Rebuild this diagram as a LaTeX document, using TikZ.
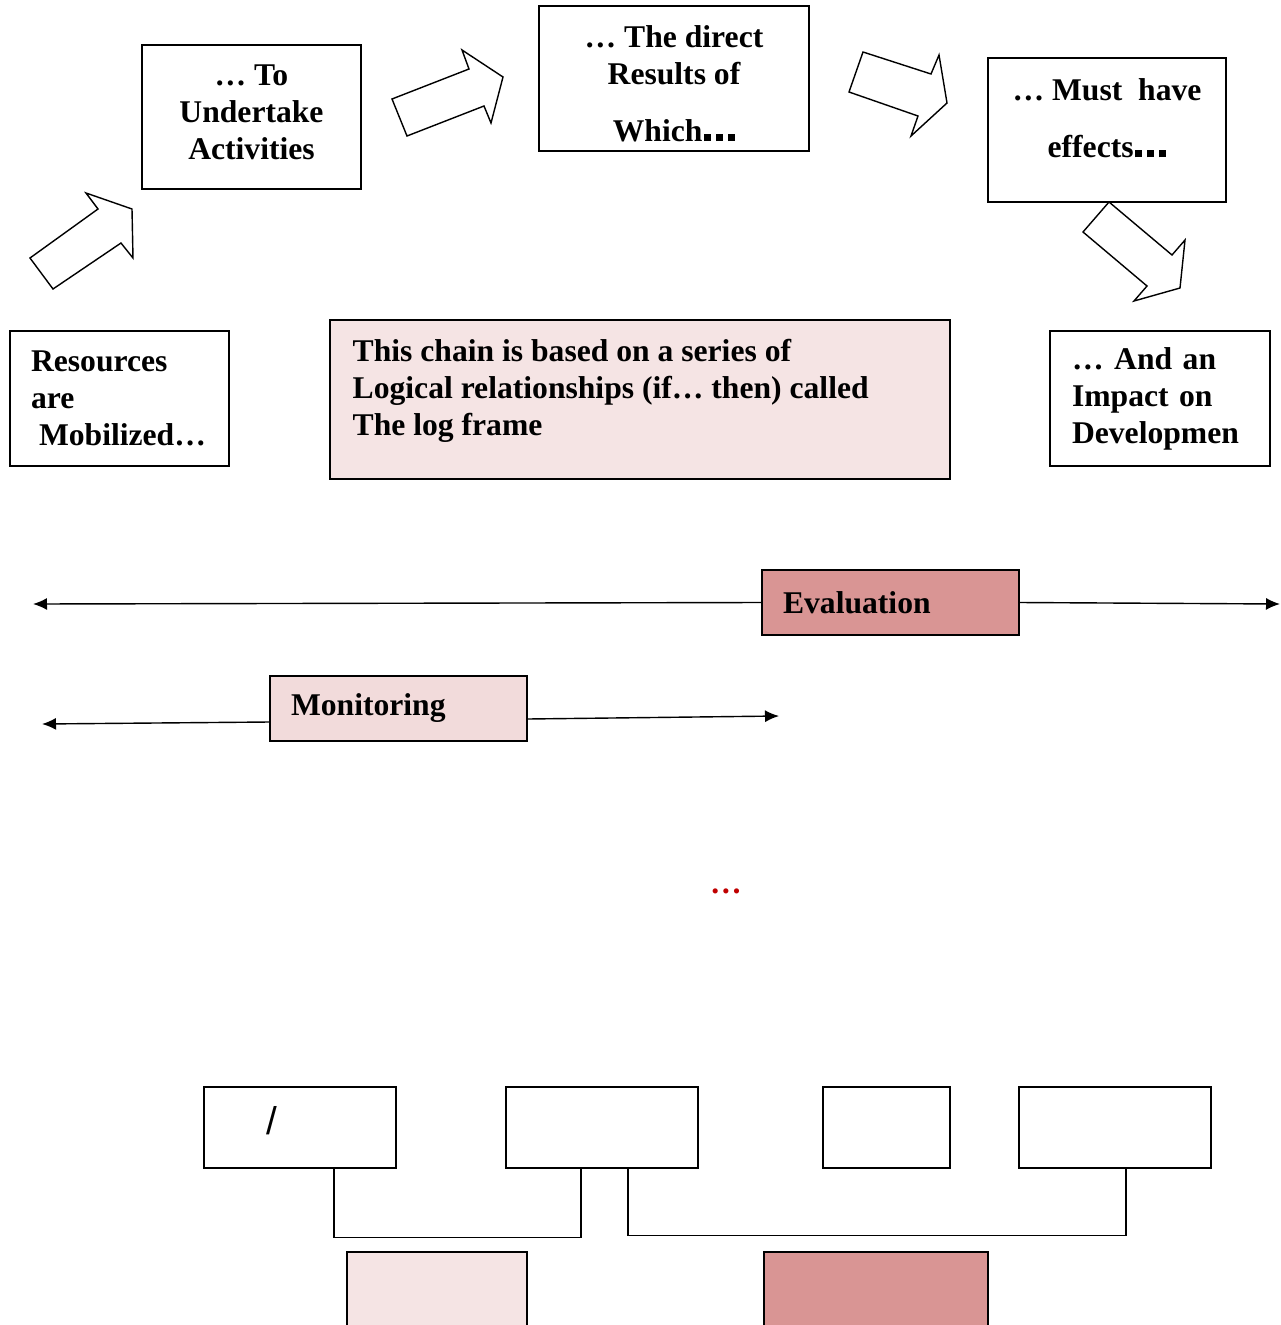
\documentclass[tikz,border=0pt]{standalone}
\usepackage{fontspec}
\setmainfont{Liberation Serif}
\newfontfamily\slashfont{Liberation Sans}
\usepackage{tikz}
\usetikzlibrary{arrows.meta}
\usetikzlibrary{positioning}
\definecolor{lightrose}{HTML}{F5E4E4}
\definecolor{paleRose}{HTML}{F2DBDB}
\definecolor{deepRose}{HTML}{D99594}
\definecolor{dotred}{HTML}{C00000}
\newcommand\blkdots{\kern1pt\rule{0.14cm}{0.14cm}\kern0.1cm\rule{0.14cm}{0.14cm}\kern0.1cm\rule{0.14cm}{0.14cm}}

\begin{document}
\begin{tikzpicture}[x=0.02cm,y=-0.02cm,line width=0.8pt,
		font=\fontsize{18}{21}\selectfont\bfseries,
		box/.style={draw,inner sep=0pt,align=center},
		leftbox/.style={draw,inner sep=0pt,align=left},
		blk/.style={draw,line join=miter,fill=white},
		tip/.style={-{Latex[length=0.28cm,width=0.24cm]}}]
			\clip (0,0) rectangle (1281,1325);
			\node[box,minimum width=4.38cm,minimum height=2.88cm] (act) at (251.5,117) {};
			\node[align=center,inner sep=0pt] (acttext) at (251.5,112.5) {… To\\Undertake\\Activities};
			\node[box,minimum width=5.4cm,minimum height=2.9cm] (res) at (674,78.5) {};
			\node[align=center,inner sep=0pt] (restext) at (674,83.5) {… The direct\\Results of\\[0.4cm]Which\blkdots};
			\node[box,minimum width=4.76cm,minimum height=2.88cm] (eff) at (1107,130) {};
			\node[align=center,inner sep=0pt] (efftext) at (1107,118) {… Must\ \ have\\[0.4cm]effects\blkdots};
			\node[leftbox,minimum width=4.38cm,minimum height=2.7cm,text width=3.54cm] (mob) at (119.5,398.5) {Resources\\are\\\hspace*{0.16cm}Mobilized…};
			\node[leftbox,minimum width=4.4cm,minimum height=2.7cm,text width=3.52cm] (imp) at (1160,398.5) {… And an\\Impact on\\Developmen};
			\node[draw,fill=lightrose,minimum width=12.4cm,minimum height=3.18cm] (frame) at (640,399.5) {};
			\node[anchor=west,align=left,inner sep=0pt] (chain) at (352,391) {This chain is based on a series of\\Logical relationships (if… then) called\\The log frame};
			\draw[blk] (30,258) -- (98,209) -- (86,193) -- (132,209) -- (133,258) -- (121,243) -- (53,289) -- cycle;
			\draw[blk] (392,99) -- (469,69) -- (462,50) -- (503,77) -- (491,123) -- (484,106) -- (407,136) -- cycle;
			\draw[blk] (863,52) -- (931,74) -- (939,55) -- (947,103) -- (911,136) -- (918,116) -- (849,92) -- cycle;
			\draw[blk] (1109,202) -- (1172,255) -- (1185,240) -- (1180,288) -- (1134,301) -- (1147,286) -- (1083,232) -- cycle;
			\node[leftbox,fill=deepRose,minimum width=5.14cm,minimum height=1.3cm,text width=4.3cm] (eval) at (890.5,602.5) {Evaluation};
			\coordinate (evl) at (33,604);
			\coordinate (evr) at (1280,604);
			\draw[tip] (eval.west) -- (evl);
			\draw[tip] (eval.east) -- (evr);
			\node[leftbox,fill=paleRose,minimum width=5.14cm,minimum height=1.3cm,text width=4.3cm] (mon) at (398.5,708.5) {Monitoring};
			\coordinate (monl) at (42,724);
			\coordinate (monr) at (779,716);
			\draw[tip] ([yshift=-0.27cm]mon.west) -- (monl);
			\draw[tip] ([yshift=-0.21cm]mon.east) -- (monr);
			\node[text=dotred] (dots) at (726,891) {…};
			\node[box,minimum width=3.84cm,minimum height=1.62cm] (b1) at (300,1127.5) {};
			\node[font=\fontsize{22}{26}\selectfont\slashfont] (slash) at (272,1121) {/};
			\node[box,minimum width=3.84cm,minimum height=1.62cm] (b2) at (602,1127.5) {};
			\node[box,minimum width=2.54cm,minimum height=1.62cm] (b3) at (886.5,1127.5) {};
			\node[box,minimum width=3.84cm,minimum height=1.62cm] (b4) at (1115,1127.5) {};
			\draw ([xshift=0.68cm]b1.south) -- ++(0,-1.38cm) -| ([xshift=-0.42cm]b2.south);
			\draw ([xshift=0.52cm]b2.south) -- ++(0,-1.34cm) -| ([xshift=0.22cm]b4.south);
			\node[box,fill=lightrose,minimum width=3.6cm,minimum height=1.86cm] (p1) at (437,1298.5) {};
			\node[box,fill=deepRose,minimum width=4.48cm,minimum height=1.86cm] (p2) at (876,1298.5) {};
\end{tikzpicture}
\end{document}
